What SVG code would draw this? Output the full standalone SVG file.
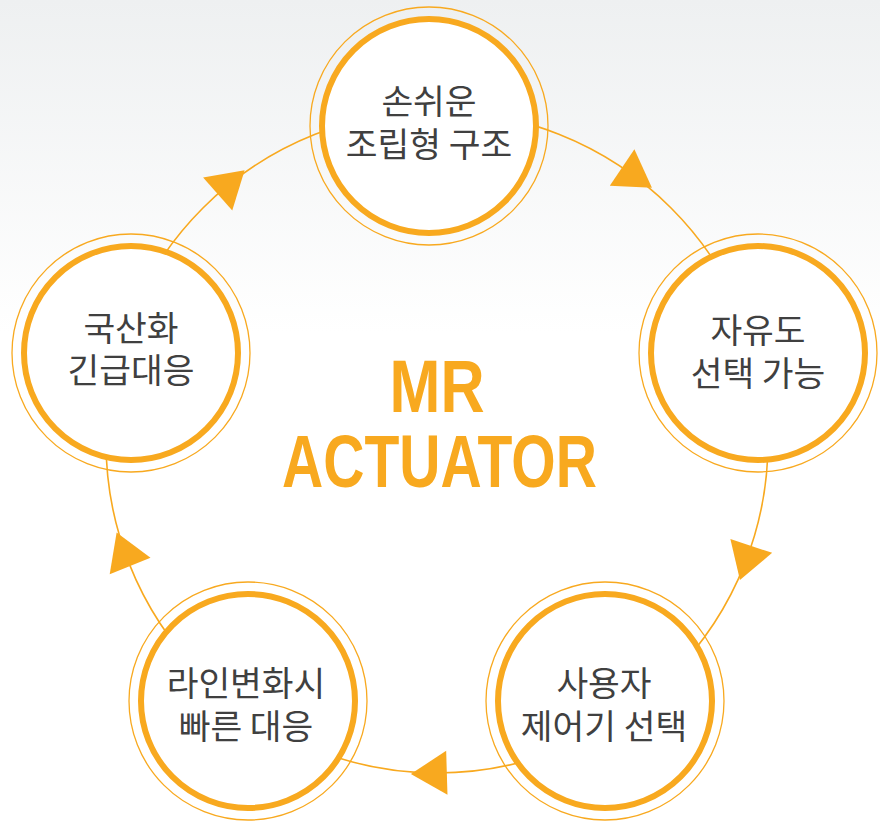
<svg xmlns="http://www.w3.org/2000/svg" xmlns:xlink="http://www.w3.org/1999/xlink" width="880" height="832" viewBox="0 0 880 832">
<defs>
<linearGradient id="bg" x1="0" y1="0" x2="0" y2="1">
<stop offset="0" stop-color="#eef0f1"/>
<stop offset="0.4" stop-color="#ffffff"/>
<stop offset="1" stop-color="#ffffff"/>
</linearGradient>
<polygon id="arrow" points="0,-22 36,0 0,22"/>
<style>
.ring{fill:none;stroke:#f8a91f;stroke-width:1.6}
.arr{fill:#f8a91f}
.thick{fill:#ffffff;stroke:#f8a91f;stroke-width:6}
.thin{fill:none;stroke:#f8a91f;stroke-width:1.3}
.lbl{font-family:"Noto Sans CJK KR","Noto Sans",sans-serif;font-size:34.5px;fill:#404040;text-anchor:middle}
.title{font-family:"Liberation Sans",Arial,sans-serif;font-size:75px;font-weight:bold;fill:#f8a91f;text-anchor:middle}
</style>
</defs>
<rect x="0" y="0" width="880" height="832" fill="url(#bg)"/>
<g id="connectors">
<circle class="ring" cx="437" cy="442" r="331"/>
<use xlink:href="#arrow" class="arr" transform="translate(437 442) rotate(-56) translate(331 0) rotate(90)"/>
<use xlink:href="#arrow" class="arr" transform="translate(437 442) rotate(18.3) translate(331 0) rotate(90)"/>
<use xlink:href="#arrow" class="arr" transform="translate(437 442) rotate(88.3) translate(331 0) rotate(90)"/>
<use xlink:href="#arrow" class="arr" transform="translate(437 442) rotate(158) translate(331 0) rotate(90)"/>
<use xlink:href="#arrow" class="arr" transform="translate(437 442) rotate(228.5) translate(331 0) rotate(90)"/>
</g>
<g id="node-assembly">
<circle class="thick" cx="429" cy="126" r="107"/>
<circle class="thin" cx="429" cy="126" r="119"/>
<text class="lbl"><tspan x="429" y="114">손쉬운</tspan><tspan x="429" y="157">조립형 구조</tspan></text>
</g>
<g id="node-freedom">
<circle class="thick" cx="758" cy="353" r="107"/>
<circle class="thin" cx="758" cy="353" r="119"/>
<text class="lbl"><tspan x="758" y="343">자유도</tspan><tspan x="758" y="386">선택 가능</tspan></text>
</g>
<g id="node-controller">
<circle class="thick" cx="605" cy="701" r="107"/>
<circle class="thin" cx="605" cy="701" r="119"/>
<text class="lbl"><tspan x="604" y="696">사용자</tspan><tspan x="604" y="739">제어기 선택</tspan></text>
</g>
<g id="node-line-change">
<circle class="thick" cx="248" cy="701" r="107"/>
<circle class="thin" cx="248" cy="701" r="119"/>
<text class="lbl"><tspan x="246" y="696">라인변화시</tspan><tspan x="246" y="739">빠른 대응</tspan></text>
</g>
<g id="node-localization">
<circle class="thick" cx="131" cy="353" r="107"/>
<circle class="thin" cx="131" cy="353" r="119"/>
<text class="lbl"><tspan x="131" y="341">국산화</tspan><tspan x="131" y="383">긴급대응</tspan></text>
</g>
<g id="title">
<text class="title"><tspan x="437" y="412" textLength="95" lengthAdjust="spacingAndGlyphs">MR</tspan><tspan x="439.5" y="487" textLength="315" lengthAdjust="spacingAndGlyphs">ACTUATOR</tspan></text>
</g>
</svg>
